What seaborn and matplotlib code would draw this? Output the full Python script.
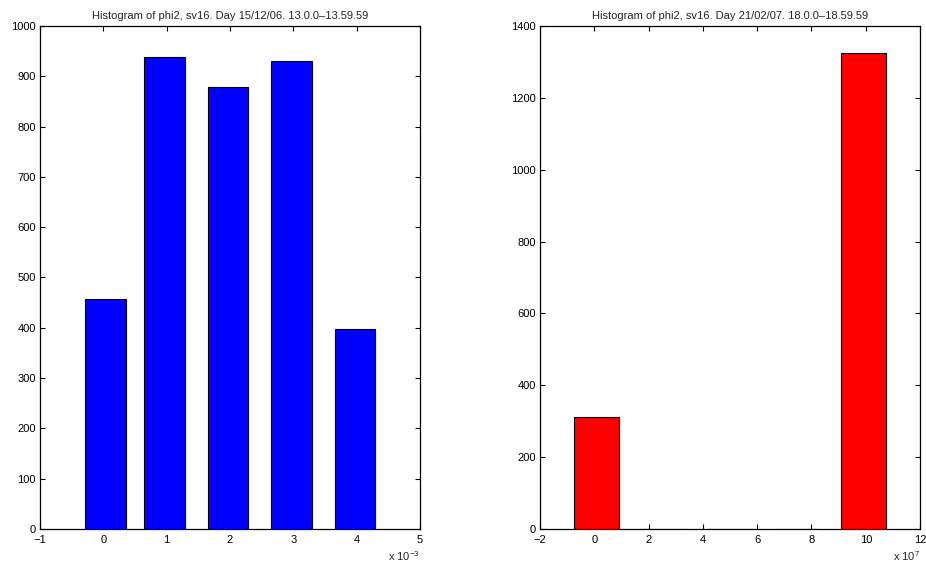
import numpy as np
import pandas as pd
import matplotlib
matplotlib.use("Agg")
import matplotlib.pyplot as plt
from matplotlib.ticker import FuncFormatter, MultipleLocator
import seaborn as sns

# Bin centres and counts of the two phi2 histograms
left_centers = [0.034e-3, 0.967e-3, 1.973e-3, 2.971e-3, 3.969e-3]
left_counts = [458, 938, 879, 930, 397]
right_centers = [0.09e7, 2.55e7, 5.0e7, 7.46e7, 9.92e7]
right_counts = [311, 0, 0, 0, 1325]

left_title = "Histogram of phi2, sv16. Day 15/12/06. 13.0.0\u201313.59.59"
right_title = "Histogram of phi2, sv16. Day 21/02/07. 18.0.0\u201318.59.59"

sns.set_style("white")
plt.rcParams["font.family"] = ["Liberation Sans", "DejaVu Sans"]
plt.rcParams["font.size"] = 8
plt.rcParams["axes.unicode_minus"] = True
plt.rcParams["mathtext.default"] = "regular"

fig = plt.figure(figsize=(9.26, 5.68), dpi=100)
ax1 = fig.add_axes([0.0432, 0.0687, 0.4104, 0.8856])
ax2 = fig.add_axes([0.5832, 0.0687, 0.4104, 0.8856])


def draw(ax, centers, counts, color, title, xlim, xstep, ystep, ymax, scale, exp):
    df = pd.DataFrame({"x": centers, "count": counts})
    sns.barplot(data=df, x="x", y="count", native_scale=True, color=color,
                saturation=1, width=0.68, errorbar=None, edgecolor="black",
                linewidth=0.8, ax=ax)
    ax.set_xlim(*xlim)
    ax.set_ylim(0, ymax)
    ax.xaxis.set_major_locator(MultipleLocator(xstep * scale))
    ax.yaxis.set_major_locator(MultipleLocator(ystep))
    ax.xaxis.set_major_formatter(FuncFormatter(lambda v, p: f"{v / scale:.0f}".replace("-", "\u2212")))
    ax.yaxis.set_major_formatter(FuncFormatter(lambda v, p: f"{v:.0f}"))
    ax.set_xlabel("")
    ax.set_ylabel("")
    ax.tick_params(direction="in", length=3.6, width=0.8, top=True, right=True,
                   bottom=True, left=True, labelsize=8, pad=3, colors="black")
    ax.tick_params(axis="x", pad=4)
    for s in ax.spines.values():
        s.set_visible(True)
        s.set_color("black")
        s.set_linewidth(0.9)
    ax.set_title(title, fontsize=8, pad=5)
    # scale factor shown under the right end of the x axis
    x_right = ax.get_position().x1
    fig.text(x_right, 7 / 568, f"x 10$^{{{exp}}}$", ha="right",
             va="baseline", fontsize=8)


draw(ax1, left_centers, left_counts, "#0000ff", left_title,
     (-1e-3, 5e-3), 1, 100, 1000, 1e-3, "-3")
draw(ax2, right_centers, right_counts, "#ff0000", right_title,
     (-2e7, 12e7), 2, 200, 1400, 1e7, "7")

fig.savefig("out.png", dpi=100, facecolor="white")
